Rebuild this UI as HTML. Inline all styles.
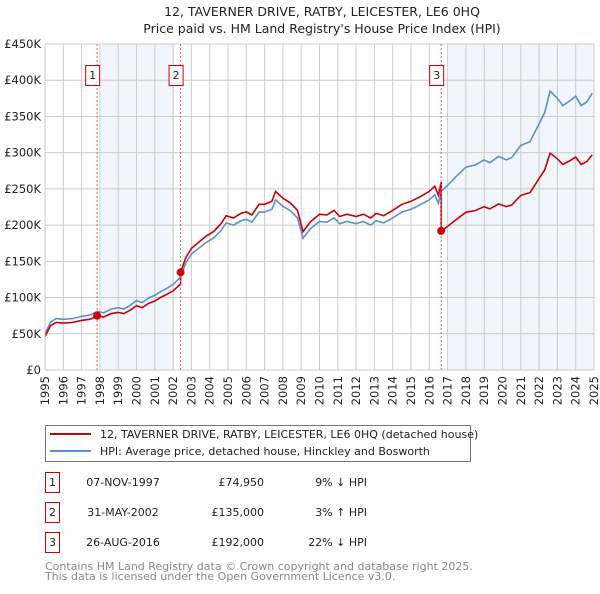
<!DOCTYPE html>
<html><head><meta charset="utf-8"><style>
body{margin:0;background:#fff;font-family:"DejaVu Sans","Liberation Sans",sans-serif;}
svg text{font-family:"DejaVu Sans","Liberation Sans",sans-serif;}
</style></head><body>
<svg id="chart" width="600" height="590" viewBox="0 0 600 590" xmlns="http://www.w3.org/2000/svg">
<text x="322" y="16" text-anchor="middle" font-size="12.5" fill="#222">12, TAVERNER DRIVE, RATBY, LEICESTER, LE6 0HQ</text>
<text x="322" y="33" text-anchor="middle" font-size="12.5" fill="#222">Price paid vs. HM Land Registry's House Price Index (HPI)</text>
<g id="shades"></g><g id="grid"></g><g id="series"></g><g id="marks"></g><g id="axes"></g>
<g>
<rect x="45.5" y="425.5" width="425" height="36" fill="#fff" stroke="#777"/>
<line x1="50" y1="434" x2="91" y2="434" stroke="#cc0000" stroke-width="2"/>
<text x="100" y="438" font-size="11" fill="#222">12, TAVERNER DRIVE, RATBY, LEICESTER, LE6 0HQ (detached house)</text>
<line x1="50" y1="451" x2="91" y2="451" stroke="#5e8fd0" stroke-width="2"/>
<text x="100" y="455" font-size="11" fill="#222">HPI: Average price, detached house, Hinckley and Bosworth</text>
</g>
<g id="table" font-size="11" fill="#222"></g>
<text x="45" y="570" font-size="11" fill="#888">Contains HM Land Registry data © Crown copyright and database right 2025.</text>
<text x="45" y="580" font-size="11" fill="#888">This data is licensed under the Open Government Licence v3.0.</text>
</svg>
<script>
const hpiYears=[1995.0,1995.3,1995.6,1996.0,1996.5,1997.0,1997.5,1997.85,1998.2,1998.6,1999.0,1999.3,1999.7,2000.0,2000.3,2000.7,2001.0,2001.3,2001.6,2002.0,2002.4,2002.7,2003.0,2003.4,2003.8,2004.2,2004.6,2004.9,2005.3,2005.7,2006.0,2006.3,2006.7,2007.0,2007.4,2007.6,2008.0,2008.4,2008.8,2009.1,2009.5,2010.0,2010.4,2010.8,2011.1,2011.5,2012.0,2012.4,2012.8,2013.1,2013.5,2014.0,2014.5,2015.0,2015.5,2016.0,2016.3,2016.5,2016.65,2017.0,2017.5,2018.0,2018.5,2019.0,2019.3,2019.8,2020.2,2020.5,2021.0,2021.5,2022.0,2022.3,2022.6,2023.0,2023.3,2023.7,2024.0,2024.3,2024.6,2024.9];
const hpiValues=[50000,66000,71000,70000,71000,74000,76000,81000,79000,84000,86000,84000,90000,96000,93000,100000,103000,108000,112000,118000,128000,148000,160000,168000,176000,182000,192000,203000,200000,206000,208000,204000,218000,218000,222000,235000,226000,220000,210000,182000,195000,205000,204000,210000,202000,205000,202000,205000,200000,206000,203000,210000,218000,222000,228000,235000,242000,230000,247000,255000,268000,280000,283000,290000,286000,295000,290000,293000,310000,315000,340000,355000,385000,375000,365000,372000,378000,365000,370000,382000];
const saleYears=[1997.85,2002.41,2016.65];
const salePrices=[74950,135000,192000];
const saleLabels=["1","2","3"];
const saleDates=["07-NOV-1997","31-MAY-2002","26-AUG-2016"];
const salePriceText=["£74,950","£135,000","£192,000"];
const saleHpiText=["9% ↓ HPI","3% ↑ HPI","22% ↓ HPI"];
const yTicks=[0,50000,100000,150000,200000,250000,300000,350000,400000,450000];
const yTickLabels=["£0","£50K","£100K","£150K","£200K","£250K","£300K","£350K","£400K","£450K"];
const xTicks=[1995,1996,1997,1998,1999,2000,2001,2002,2003,2004,2005,2006,2007,2008,2009,2010,2011,2012,2013,2014,2015,2016,2017,2018,2019,2020,2021,2022,2023,2024,2025];

const X0=45,X1=594,Y0=370,Y1=44;
const xs=y=>X0+(y-1995)/30*(X1-X0);
const ys=v=>Y0-v/450000*(Y0-Y1);
const NS="http://www.w3.org/2000/svg";
function mk(tag,attrs,parent){const e=document.createElementNS(NS,tag);for(const k in attrs)e.setAttribute(k,attrs[k]);parent.appendChild(e);return e;}
const G=id=>document.getElementById(id);

// shading
let s1=mk('rect',{x:xs(1998.05),y:Y1,width:xs(2002.05)-xs(1998.05),height:Y0-Y1,fill:'#eef3fb',opacity:0.8},G('shades'));


let s2=mk('rect',{x:xs(2017.05),y:Y1,width:X1-xs(2017.05),height:Y0-Y1,fill:'#eef3fb',opacity:0.8},G('shades'));



// grid
yTicks.forEach((v,i)=>{
 let l=mk('line',{x1:X0,x2:X1,y1:ys(v),y2:ys(v),stroke:'#cccccc'},G('grid'));
 
 
 let t=mk('text',{x:X0-4,y:ys(v)+4,'text-anchor':'end','font-size':11.5,fill:'#222'},G('axes'));
 t.textContent=yTickLabels[i];
 
 
});
xTicks.forEach(yr=>{
 let l=mk('line',{x1:xs(yr),x2:xs(yr),y1:Y1,y2:Y0,stroke:'#cccccc'},G('grid'));
 
 
 let t=mk('text',{x:0,y:0,'text-anchor':'end','font-size':11.5,fill:'#222',transform:`translate(${xs(yr)+4},376) rotate(-90)`},G('axes'));
 t.textContent=yr;
 
 
});
let ax=mk('line',{x1:X0,x2:X0,y1:Y1,y2:Y0,stroke:'#ccc'},G('axes'));



function hpiAt(y){for(let i=1;i<hpiYears.length;i++){if(y<=hpiYears[i]){const t=(y-hpiYears[i-1])/(hpiYears[i]-hpiYears[i-1]);return hpiValues[i-1]+t*(hpiValues[i]-hpiValues[i-1]);}}return hpiValues[hpiValues.length-1];}
const ratios=saleYears.map((y,i)=>salePrices[i]/hpiAt(y));
function ratioAt(y){let r=ratios[0];for(let i=0;i<saleYears.length;i++)if(y>=saleYears[i])r=ratios[i];return r;}

let bp=hpiYears.map((y,i)=>(i?'L':'M')+xs(y).toFixed(1)+','+ys(hpiValues[i]).toFixed(1)).join('');
let bl=mk('path',{d:bp,fill:'none',stroke:'#5e8fd0','stroke-width':1.6},G('series'));



// red: combine hpi points and sale points
let pts=[];
hpiYears.forEach((y,i)=>pts.push([y,hpiValues[i]*ratioAt(y)]));
saleYears.forEach((y,i)=>{pts.push([y-0.001,hpiAt(y-0.001)*(i?ratios[i-1]:ratios[0])]);pts.push([y,salePrices[i]]);});
pts.sort((a,b)=>a[0]-b[0]);
let rp=pts.map((p,i)=>(i?'L':'M')+xs(p[0]).toFixed(1)+','+ys(p[1]).toFixed(1)).join('');
let rl=mk('path',{d:rp,fill:'none',stroke:'#cc0000','stroke-width':1.6},G('series'));



saleYears.forEach((y,i)=>{
 let v=mk('line',{x1:xs(y),x2:xs(y),y1:Y1,y2:Y0,stroke:'#e06060','stroke-dasharray':'2,2'},G('marks'));
 
 
 let c=mk('circle',{cx:xs(y),cy:ys(salePrices[i]),r:4,fill:'#cc0000'},G('marks'));
 
 
 let b=mk('rect',{x:xs(y)-11.5,y:65.5,width:14,height:20,fill:'#fff',stroke:'#cc0000'},G('marks'));
 
 
 let t=mk('text',{x:xs(y)-4.5,y:79,'text-anchor':'middle','font-size':11,fill:'#222'},G('marks'));
 t.textContent=saleLabels[i];
 
 
 // table
 const ry=483+i*30;
 let tb=mk('rect',{x:45.5,y:ry-10.5,width:14,height:20,fill:'#fff',stroke:'#cc0000'},G('table'));
 
 
 let tn=mk('text',{x:52.5,y:ry+3,'text-anchor':'middle'},G('table'));
 tn.textContent=saleLabels[i];
 
 
 let td=mk('text',{x:123,y:ry+3,'text-anchor':'middle'},G('table'));
 td.textContent=saleDates[i];
 
 
 let tp=mk('text',{x:264,y:ry+3,'text-anchor':'end'},G('table'));
 tp.textContent=salePriceText[i];
 
 
 let th=mk('text',{x:367,y:ry+3,'text-anchor':'end'},G('table'));
 th.textContent=saleHpiText[i];
 
 
});
</script>
</body></html>
